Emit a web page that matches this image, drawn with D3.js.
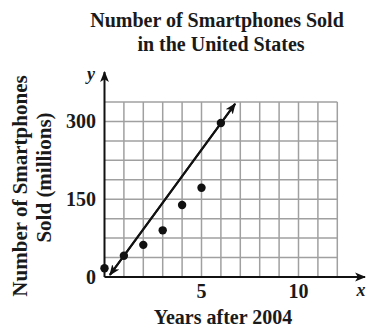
<!DOCTYPE html>
<html><head><meta charset="utf-8">
<script src="https://cdn.jsdelivr.net/npm/d3@7"></script>
<style>html,body{margin:0;padding:0;background:#fff;}svg{display:block;}</style>
</head><body>
<script>
const years = [0, 1, 2, 3, 4, 5, 6];
const sold = [17, 41, 62, 90, 139, 172, 297];
const lineX = [0.28, 6.73];
const lineY = [4, 334];
const xTicks = [5, 10];
const yTicks = [0, 150, 300];
const xGrid = d3.range(1, 13);
const yGrid = d3.range(1, 10).map(i => i * 37.5);

const W = 367, H = 328;
const svg = d3.select("body").append("svg").attr("width", W).attr("height", H);
const x = d3.scaleLinear().domain([0, 12]).range([104.5, 337.3]);
const y = d3.scaleLinear().domain([0, 337.5]).range([277, 102]);
const serif = "'Liberation Serif','Times New Roman',serif";
const ink = "#1a1a1a";

const defs = svg.append("defs");
defs.append("marker").attr("id", "ah").attr("viewBox", "0 0 10 10").attr("refX", 9).attr("refY", 5)
  .attr("markerWidth", 11).attr("markerHeight", 11).attr("markerUnits", "userSpaceOnUse").attr("orient", "auto")
  .append("path").attr("d", "M0,1 L10,5 L0,9 L2.5,5 Z").attr("fill", "#111");

// grid
const g = svg.append("g");
g.selectAll(".vg").data(xGrid).join("line")
  .attr("x1", d => x(d)).attr("x2", d => x(d)).attr("y1", y(0)).attr("y2", y(337.5))
  .attr("stroke", "#a0a0a0").attr("stroke-width", 1.5);
g.selectAll(".hg").data(yGrid).join("line")
  .attr("x1", x(0)).attr("x2", x(12)).attr("y1", d => y(d)).attr("y2", d => y(d))
  .attr("stroke", "#a0a0a0").attr("stroke-width", 1.5);

// axes
svg.append("line").attr("x1", x(0)).attr("y1", y(0)).attr("x2", 365).attr("y2", y(0))
  .attr("stroke", "#111").attr("stroke-width", 2).attr("marker-end", "url(#ah)");
svg.append("line").attr("x1", x(0)).attr("y1", y(0)).attr("x2", x(0)).attr("y2", 72)
  .attr("stroke", "#111").attr("stroke-width", 2).attr("marker-end", "url(#ah)");

// tick labels
svg.selectAll(".xt").data(xTicks).join("text")
  .attr("x", d => x(d)).attr("y", 298).attr("text-anchor", "middle")
  .attr("font-family", serif).attr("font-weight", "bold").attr("font-size", 20).attr("fill", ink).text(d => d);
svg.selectAll(".yt").data(yTicks).join("text")
  .attr("x", 96).attr("y", d => y(d) + 7).attr("text-anchor", "end")
  .attr("font-family", serif).attr("font-weight", "bold").attr("font-size", 20).attr("fill", ink).text(d => d);

// axis letters
svg.append("text").attr("x", 91).attr("y", 80).attr("text-anchor", "middle")
  .attr("font-family", serif).attr("font-style", "italic").attr("font-weight", "bold").attr("font-size", 18).attr("fill", ink).text("y");
svg.append("text").attr("x", 361).attr("y", 296).attr("text-anchor", "middle")
  .attr("font-family", serif).attr("font-style", "italic").attr("font-weight", "bold").attr("font-size", 18).attr("fill", ink).text("x");

// line
svg.append("line").attr("x1", x(lineX[1])).attr("y1", y(lineY[1])).attr("x2", x(lineX[0])).attr("y2", y(lineY[0]))
  .attr("stroke", "#111").attr("stroke-width", 2).attr("marker-end", "url(#ah)");
svg.append("line").attr("x1", x(lineX[0])).attr("y1", y(lineY[0])).attr("x2", x(lineX[1])).attr("y2", y(lineY[1]))
  .attr("stroke", "#111").attr("stroke-width", 2).attr("marker-end", "url(#ah)");

// points
svg.selectAll(".pt").data(years).join("circle")
  .attr("cx", (d) => x(d)).attr("cy", (d, i) => y(sold[i])).attr("r", 4.2).attr("fill", "#111");

// titles
const title = svg.append("text").attr("text-anchor", "middle").attr("font-family", serif)
  .attr("font-weight", "bold").attr("font-size", 20).attr("fill", ink);
title.append("tspan").attr("x", 217).attr("y", 27).text("Number of Smartphones Sold");
title.append("tspan").attr("x", 221).attr("y", 51).text("in the United States");

svg.append("text").attr("x", 223).attr("y", 324).attr("text-anchor", "middle").attr("font-family", serif)
  .attr("font-weight", "bold").attr("font-size", 20).attr("fill", ink).text("Years after 2004");

const yl = svg.append("text").attr("text-anchor", "middle")
  .attr("font-family", serif).attr("font-weight", "bold").attr("font-size", 21).attr("fill", ink);
yl.append("tspan").attr("transform", null);
yl.select("tspan").remove();
svg.append("text").attr("transform", "translate(27,186) rotate(-90)").attr("text-anchor", "middle")
  .attr("font-family", serif).attr("font-weight", "bold").attr("font-size", 21).attr("fill", ink).text("Number of Smartphones");
svg.append("text").attr("transform", "translate(51,177.5) rotate(-90)").attr("text-anchor", "middle")
  .attr("font-family", serif).attr("font-weight", "bold").attr("font-size", 21).attr("fill", ink).text("Sold (millions)");
</script>
</body></html>
